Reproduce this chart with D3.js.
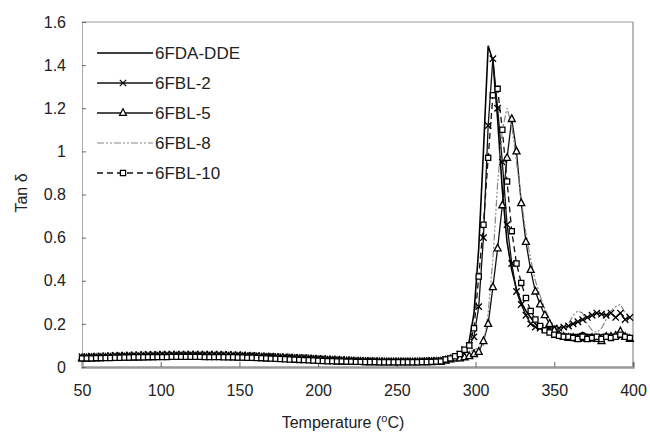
<!DOCTYPE html>
<html>
<head>
<meta charset="utf-8">
<script src="https://cdn.jsdelivr.net/npm/d3@7"></script>
<style>
  body { margin: 0; background: #fff; }
  text { font-family: "Liberation Sans", Arial, sans-serif; fill: #222; }
</style>
</head>
<body>
<div class="canvas"></div>
<script>
// temperatures sampled every 3 degC
const temps = d3.range(50, 400, 3);

// tan delta values, baseline (50-278) then transition (281-398)
const ddeVals = [
  0.045,0.045,0.045,0.046,0.046,0.047,0.047,0.048,0.048,0.049,0.049,0.05,0.05,0.05,0.051,0.051,0.051,
  0.052,0.052,0.052,0.052,0.053,0.053,0.053,0.053,0.053,0.052,0.052,0.052,0.052,0.051,0.051,0.051,0.05,
  0.05,0.05,0.049,0.049,0.048,0.047,0.046,0.045,0.044,0.043,0.042,0.041,0.04,0.039,0.038,0.037,0.036,
  0.035,0.034,0.033,0.032,0.031,0.03,0.03,0.029,0.028,0.028,0.027,0.027,0.026,0.026,0.025,0.025,0.025,
  0.025,0.025,0.025,0.025,0.025,0.026,0.026,0.027,0.028,
  0.03,0.035,0.04,0.05,0.07,0.12,0.25,0.55,1.0,1.49,
  1.42,1.15,0.82,0.58,0.45,0.36,0.3,0.26,0.23,0.2,
  0.18,0.17,0.16,0.155,0.15,0.15,0.15,0.15,0.15,0.16,
  0.15,0.15,0.14,0.15,0.15,0.15,0.15,0.16,0.15,0.14
];
const fbl2Vals = [
  0.048,0.048,0.05,0.05,0.052,0.052,0.053,0.054,0.055,0.055,0.056,0.056,0.057,0.057,0.058,0.058,0.058,
  0.059,0.059,0.06,0.06,0.06,0.06,0.06,0.06,0.06,0.06,0.059,0.059,0.059,0.058,0.058,0.057,0.057,
  0.056,0.055,0.054,0.053,0.052,0.051,0.05,0.049,0.048,0.047,0.046,0.045,0.044,0.043,0.042,0.041,0.04,
  0.039,0.038,0.037,0.036,0.035,0.034,0.033,0.032,0.031,0.03,0.03,0.029,0.029,0.028,0.028,0.028,0.028,
  0.028,0.028,0.028,0.028,0.029,0.029,0.03,0.03,0.032,
  0.035,0.04,0.045,0.06,0.08,0.1,0.14,0.28,0.6,1.12,
  1.43,1.2,0.95,0.66,0.48,0.35,0.29,0.24,0.2,0.185,
  0.18,0.175,0.18,0.18,0.18,0.185,0.19,0.2,0.21,0.22,
  0.23,0.24,0.25,0.245,0.24,0.25,0.23,0.25,0.22,0.23
];
const fbl5Vals = [
  0.04,0.04,0.041,0.041,0.042,0.042,0.043,0.043,0.044,0.044,0.045,0.045,0.045,0.046,0.046,0.046,0.047,
  0.047,0.047,0.047,0.048,0.048,0.048,0.048,0.048,0.048,0.048,0.048,0.047,0.047,0.047,0.047,0.046,0.046,
  0.046,0.045,0.045,0.044,0.043,0.042,0.041,0.04,0.039,0.038,0.037,0.036,0.035,0.034,0.033,0.032,0.031,
  0.03,0.029,0.028,0.027,0.026,0.025,0.025,0.024,0.024,0.023,0.023,0.022,0.022,0.022,0.022,0.022,0.022,
  0.022,0.022,0.022,0.022,0.022,0.023,0.023,0.024,0.025,
  0.03,0.035,0.04,0.04,0.045,0.05,0.06,0.07,0.12,0.2,
  0.37,0.55,0.75,0.97,1.15,1.0,0.76,0.58,0.45,0.35,
  0.29,0.24,0.2,0.17,0.15,0.14,0.135,0.135,0.13,0.135,
  0.13,0.135,0.13,0.12,0.14,0.14,0.145,0.165,0.14,0.13
];
const fbl8Vals = [
  0.047,0.047,0.048,0.048,0.049,0.05,0.05,0.051,0.052,0.052,0.053,0.054,0.054,0.055,0.055,0.056,0.056,
  0.057,0.057,0.058,0.058,0.059,0.059,0.06,0.06,0.061,0.061,0.062,0.062,0.063,0.063,0.063,0.064,0.064,
  0.064,0.064,0.064,0.063,0.063,0.062,0.062,0.061,0.06,0.06,0.059,0.058,0.057,0.056,0.055,0.053,0.051,
  0.049,0.047,0.045,0.043,0.041,0.039,0.037,0.035,0.033,0.032,0.031,0.03,0.029,0.029,0.028,0.028,0.028,
  0.028,0.028,0.028,0.028,0.029,0.029,0.03,0.031,0.032,
  0.035,0.04,0.045,0.05,0.06,0.07,0.08,0.09,0.1,0.25,
  0.5,0.85,1.1,1.2,1.12,0.95,0.78,0.62,0.5,0.4,
  0.33,0.27,0.22,0.19,0.18,0.19,0.2,0.24,0.26,0.25,
  0.2,0.17,0.16,0.18,0.22,0.26,0.28,0.29,0.25,0.24
];
const fbl10Vals = [
  0.04,0.04,0.04,0.041,0.041,0.042,0.042,0.043,0.043,0.044,0.044,0.045,0.045,0.045,0.046,0.046,0.046,
  0.046,0.046,0.047,0.047,0.047,0.047,0.047,0.047,0.047,0.046,0.046,0.046,0.046,0.045,0.045,0.045,0.044,
  0.044,0.043,0.043,0.042,0.041,0.04,0.039,0.038,0.037,0.036,0.035,0.034,0.033,0.032,0.031,0.03,0.029,
  0.028,0.027,0.027,0.026,0.026,0.025,0.025,0.024,0.024,0.023,0.023,0.023,0.022,0.022,0.022,0.022,0.022,
  0.022,0.022,0.022,0.022,0.023,0.023,0.024,0.025,0.026,
  0.035,0.04,0.05,0.06,0.08,0.1,0.18,0.42,0.66,0.97,
  1.26,1.29,1.1,0.86,0.63,0.48,0.39,0.32,0.26,0.22,
  0.19,0.17,0.16,0.15,0.145,0.14,0.14,0.135,0.13,0.14,
  0.13,0.135,0.14,0.13,0.14,0.135,0.14,0.15,0.14,0.135
];

const seriesNames = ["6FDA-DDE", "6FBL-2", "6FBL-5", "6FBL-8", "6FBL-10"];
const xTicks = [50, 100, 150, 200, 250, 300, 350, 400];
const yTicks = [0, 0.2, 0.4, 0.6, 0.8, 1, 1.2, 1.4, 1.6];

const series = [
  { name: seriesNames[0], vals: ddeVals, stroke: "#000", width: 1.6, dash: null, marker: null },
  { name: seriesNames[1], vals: fbl2Vals, stroke: "#111", width: 1.3, dash: null, marker: "x" },
  { name: seriesNames[2], vals: fbl5Vals, stroke: "#111", width: 1.3, dash: null, marker: "tri" },
  { name: seriesNames[3], vals: fbl8Vals, stroke: "#888", width: 1.2, dash: "7,2,2,2,2,2", marker: null },
  { name: seriesNames[4], vals: fbl10Vals, stroke: "#111", width: 1.3, dash: "6,4", marker: "sq" }
];

const margin = { top: 22, right: 17, bottom: 65, left: 82 };
const width = 650, height = 432;
const graphWidth = width - margin.left - margin.right;
const graphHeight = height - margin.top - margin.bottom;

const svg = d3.select(".canvas").append("svg")
  .attr("width", width)
  .attr("height", height);

const graph = svg.append("g")
  .attr("transform", `translate(${margin.left}, ${margin.top})`);

// scales
const x = d3.scaleLinear().domain([50, 400]).range([0, graphWidth]);
const y = d3.scaleLinear().domain([0, 1.6]).range([graphHeight, 0]);

// frame
graph.append("line").attr("x1", 0).attr("x2", graphWidth).attr("y1", 0).attr("y2", 0)
  .attr("stroke", "#999").attr("stroke-width", 1);
graph.append("line").attr("x1", graphWidth).attr("x2", graphWidth).attr("y1", 0).attr("y2", graphHeight)
  .attr("stroke", "#777").attr("stroke-width", 1);

// axes
const xAxis = d3.axisBottom(x).tickValues(xTicks).tickSize(-5).tickPadding(18).tickFormat(d3.format("d"));
const yAxis = d3.axisLeft(y).tickValues(yTicks).tickSize(-4).tickPadding(16).tickFormat(d => d === 1 ? "1" : d3.format(".1f")(d).replace(/^0\.0$/, "0"));

const xAxisGroup = graph.append("g").attr("transform", `translate(0, ${graphHeight})`).call(xAxis);
const yAxisGroup = graph.append("g").call(yAxis);

[xAxisGroup, yAxisGroup].forEach(g => {
  g.selectAll("text").style("font-size", "16px").attr("fill", "#222");
  g.selectAll(".tick line").attr("stroke", "#666");
});
xAxisGroup.select(".domain").attr("stroke", "#999").attr("stroke-width", 2.5);
yAxisGroup.select(".domain").attr("stroke", "#aaa").attr("stroke-width", 1);

// lines
const line = d3.line()
  .x((d, i) => x(temps[i]))
  .y(d => y(d));

const symbolPath = (type, size) => {
  if (type === "x") return `M${-size},${-size}L${size},${size}M${-size},${size}L${size},${-size}`;
  if (type === "tri") return `M0,${-size * 1.2}L${size},${size * 0.7}L${-size},${size * 0.7}Z`;
  return `M${-size},${-size}h${size * 2}v${size * 2}h${-size * 2}Z`;
};
const markerSize = { x: 3.2, tri: 3.5, sq: 2.6 };

series.forEach(s => {
  graph.append("path")
    .datum(s.vals)
    .attr("fill", "none")
    .attr("stroke", s.stroke)
    .attr("stroke-width", s.width)
    .attr("stroke-dasharray", s.dash)
    .attr("d", line);
});

series.filter(s => s.marker).forEach(s => {
  graph.append("g").selectAll("path")
    .data(s.vals)
    .enter()
    .append("path")
    .attr("transform", (d, i) => `translate(${x(temps[i])}, ${y(d)})`)
    .attr("d", symbolPath(s.marker, markerSize[s.marker]))
    .attr("fill", s.marker === "x" ? "none" : "#fff")
    .attr("stroke", "#000")
    .attr("stroke-width", 1.3);
});

// legend
const legend = svg.append("g").attr("transform", "translate(97, 53)");
series.forEach((s, i) => {
  const row = legend.append("g").attr("transform", `translate(0, ${i * 30})`);
  row.append("line")
    .attr("x1", 0).attr("x2", 56).attr("y1", 0).attr("y2", 0)
    .attr("stroke", s.stroke)
    .attr("stroke-width", s.width)
    .attr("stroke-dasharray", s.dash);
  if (s.marker) {
    row.append("path")
      .attr("transform", "translate(26, 0)")
      .attr("d", symbolPath(s.marker, markerSize[s.marker]))
      .attr("fill", s.marker === "x" ? "none" : "#fff")
      .attr("stroke", "#000")
      .attr("stroke-width", 1.2);
  }
  row.append("text")
    .attr("x", 58).attr("y", 6)
    .style("font-size", "17px")
    .text(s.name);
});

// axis titles
svg.append("text")
  .attr("transform", "translate(27, 193) rotate(-90)")
  .attr("text-anchor", "middle")
  .style("font-size", "16px")
  .text("Tan δ");

const xTitle = svg.append("text")
  .attr("x", 343).attr("y", 428)
  .attr("text-anchor", "middle")
  .style("font-size", "16px");
xTitle.append("tspan").text("Temperature (");
xTitle.append("tspan").attr("dy", -6).style("font-size", "11px").text("o");
xTitle.append("tspan").attr("dy", 6).text("C)");
</script>
</body>
</html>
